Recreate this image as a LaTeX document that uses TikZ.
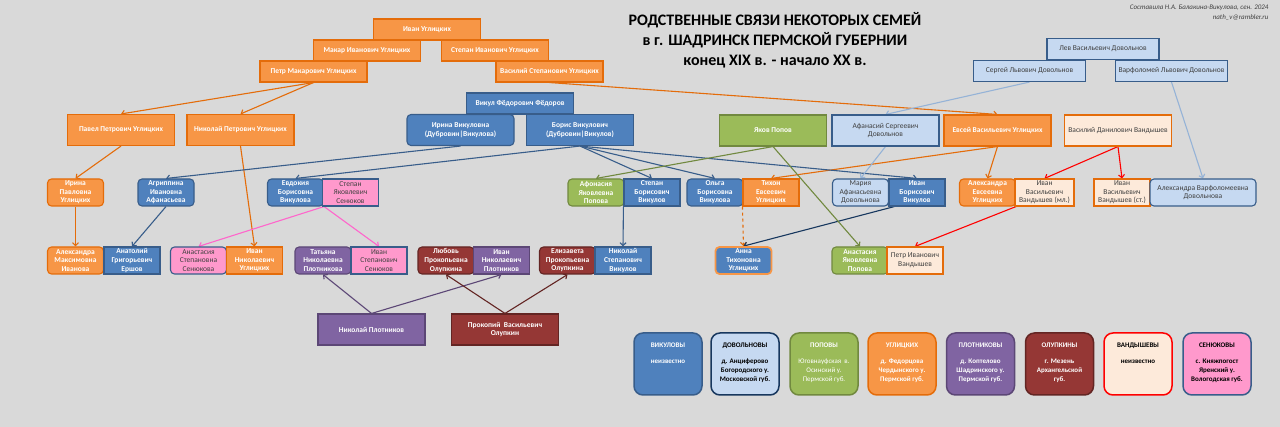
\documentclass[tikz,border=0pt]{standalone}
\usepackage{fontspec}
\setmainfont{Carlito}
\usepackage{tikz}
\definecolor{bg}{RGB}{217,217,217}
\definecolor{txt}{RGB}{64,64,64}
\definecolor{vikfill}{RGB}{79,129,189}
\definecolor{vikline}{RGB}{56,93,138}
\definecolor{dovfill}{RGB}{198,217,241}
\definecolor{dovline}{RGB}{56,93,138}
\definecolor{dovedge}{RGB}{149,179,215}
\definecolor{popfill}{RGB}{155,187,89}
\definecolor{popline}{RGB}{113,137,63}
\definecolor{uglfill}{RGB}{247,150,70}
\definecolor{uglline}{RGB}{228,108,10}
\definecolor{plofill}{RGB}{128,100,162}
\definecolor{ploline}{RGB}{92,71,118}
\definecolor{olufill}{RGB}{149,55,53}
\definecolor{oluline}{RGB}{99,37,35}
\definecolor{vanfill}{RGB}{253,234,218}
\definecolor{senfill}{RGB}{255,153,204}
\definecolor{senedge}{RGB}{255,102,204}
\definecolor{navy}{RGB}{23,55,94}
\definecolor{lred}{RGB}{255,0,0}
\usetikzlibrary{arrows.meta}
\pgfdeclarelayer{bglayer}
\pgfdeclarelayer{edgelayer}
\pgfdeclarelayer{nodelayer}
\pgfsetlayers{bglayer,edgelayer,nodelayer,main}
\tikzstyle{box}=[draw, line width=1.1pt, align=center, inner sep=1pt, text=white, font=\fontsize{7.5}{8.6}\selectfont\bfseries]
\tikzstyle{big}=[box, minimum width=107pt, minimum height=21pt]
\tikzstyle{mid}=[box, minimum width=107pt, minimum height=31pt]
\tikzstyle{sm}=[box, minimum width=56pt, minimum height=27pt]
\tikzstyle{rnd}=[rounded corners=4pt]
\tikzstyle{lite}=[text=txt, font=\fontsize{7.5}{8.6}\selectfont]
\tikzstyle{vik}=[fill=vikfill, draw=vikline]
\tikzstyle{dov}=[fill=dovfill, draw=dovline, lite]
\tikzstyle{pop}=[fill=popfill, draw=popline]
\tikzstyle{ugl}=[fill=uglfill, draw=uglline]
\tikzstyle{plo}=[fill=plofill, draw=ploline]
\tikzstyle{olu}=[fill=olufill, draw=oluline]
\tikzstyle{van}=[fill=vanfill, draw=uglline, lite]
\tikzstyle{sen}=[fill=senfill, draw=vikline, lite]
\tikzstyle{leg}=[draw, line width=1.5pt, rounded corners=9pt, minimum width=68pt, minimum height=62pt, inner sep=1pt, font=\fontsize{7}{9}\selectfont\bfseries]
\tikzstyle{edge}=[->, line width=1.1pt]
\newcommand{\legtext}[2]{\parbox[c][56pt][t]{66pt}{\centering\vspace*{7pt}#1\\[7pt]#2}}

\begin{document}
\begin{tikzpicture}[x=1pt, y=-1pt, >={Straight Barb[length=3pt,width=6pt]}]
        \begin{pgfonlayer}{bglayer}
            \fill [bg] (0,0) rectangle (1280,427);
        \end{pgfonlayer}
        \useasboundingbox (0,0) rectangle (1280,427);

        \begin{pgfonlayer}{nodelayer}
            % title
            \node [align=center, font=\fontsize{16}{20}\selectfont\bfseries] (title) at (775,40) {РОДСТВЕННЫЕ СВЯЗИ НЕКОТОРЫХ СЕМЕЙ\\в г. ШАДРИНСК ПЕРМСКОЙ ГУБЕРНИИ\\конец XIX в. - начало XX в.};
            \node [anchor=north east, align=right, text=txt, font=\fontsize{7}{10}\selectfont\itshape] (credit) at (1272,1) {Составила Н.А. Балакина-Викулова, сен. 2024\\nath\_v@rambler.ru};

            % Углицких
            \node [big, ugl] (ivan) at (427,29.5) {Иван Углицких};
            \node [big, ugl] (makar) at (367,50.5) {Макар Иванович Углицких};
            \node [big, ugl] (stepan) at (495,50.5) {Степан Иванович Углицких};
            \node [big, ugl] (petr) at (313.5,71.5) {Петр Макарович Углицких};
            \node [big, ugl] (vasiliy) at (549.5,71.5) {Василий Степанович Углицких};
            \node [mid, ugl] (pavel) at (121,130) {Павел Петрович Углицких};
            \node [mid, ugl] (nikolay) at (240.5,130) {Николай Петрович Углицких};

            % Викуловы
            \node [big, vik] (vikul) at (520,103.5) {Викул Фёдорович Фёдоров};
            \node [mid, vik, rnd] (irina) at (460.5,130) {Ирина Викуловна\\(Дубровин|Викулова)};
            \node [mid, vik] (boris) at (580,130) {Борис Викулович\\(Дубровин|Викулов)};

            % Довольновы
            \node [big, dov, minimum width=112pt] (lev) at (1103,49) {Лев Васильевич Довольнов};
            \node [big, dov, minimum width=112pt] (sergey) at (1029.5,71) {Сергей Львович Довольнов};
            \node [big, dov, minimum width=112pt] (varf) at (1171.5,71) {Варфоломей Львович Довольнов};

            \node [mid, pop] (yakov) at (773,130.5) {Яков Попов};
            \node [mid, dov] (afanasiy) at (885.5,130.5) {Афанасий Сергеевич\\Довольнов};
            \node [mid, ugl] (evsey) at (997.5,130.5) {Евсей Васильевич Углицких};
            \node [mid, van] (vasdan) at (1118,130.5) {Василий Данилович Вандышев};

            % third row
            \node [sm, ugl, rnd] (irinap) at (75.5,192.5) {Ирина\\Павловна\\Углицких};
            \node [sm, vik, rnd] (agrip) at (166,192.5) {Агриппина\\Ивановна\\Афанасьева};
            \node [sm, vik, rnd] (evdok) at (295.5,192.5) {Евдокия\\Борисовна\\Викулова};
            \node [sm, sen] (stsen) at (350.5,192.5) {Степан\\Яковлевич\\Сенюков};
            \node [sm, pop, rnd] (afon) at (596,192.5) {Афонасия\\Яковлевна\\Попова};
            \node [sm, vik] (stbor) at (652,192.5) {Степан\\Борисович\\Викулов};
            \node [sm, vik, rnd] (olga) at (715,192.5) {Ольга\\Борисовна\\Викулова};
            \node [sm, ugl] (tihon) at (771,192.5) {Тихон\\Евсеевич\\Углицких};
            \node [sm, dov, rnd] (maria) at (860.5,192.5) {Мария\\Афанасьевна\\Довольнова};
            \node [sm, vik] (ivbor) at (917,192.5) {Иван\\Борисович\\Викулов};
            \node [sm, ugl, rnd] (aleks) at (987.5,192.5) {Александра\\Евсеевна\\Углицких};
            \node [sm, van, minimum width=59pt] (ivml) at (1044.5,192.5) {Иван\\Васильевич\\Вандышев (мл.)};
            \node [sm, van] (ivst) at (1122,192.5) {Иван\\Васильевич\\Вандышев (ст.)};
            \node [sm, dov, rnd, minimum width=106pt] (alvarf) at (1203,192.5) {Александра Варфоломеевна\\Довольнова};

            % fourth row
            \node [sm, ugl, rnd] (alexm) at (75.5,260.5) {Александра\\Максимовна\\Иванова};
            \node [sm, vik] (anat) at (132,260.5) {Анатолий\\Григорьевич\\Ершов};
            \node [sm, sen, rnd] (anast) at (198.5,260.5) {Анастасия\\Степановна\\Сенюкова};
            \node [sm, ugl] (ivnik) at (254.5,260.5) {Иван\\Николаевич\\Углицких};
            \node [sm, plo, rnd] (tatyana) at (323,260.5) {Татьяна\\Николаевна\\Плотникова};
            \node [sm, sen] (ivstep) at (379,260.5) {Иван\\Степанович\\Сенюков};
            \node [sm, olu, rnd] (lubov) at (446,260.5) {Любовь\\Прокопьевна\\Олупкина};
            \node [sm, plo] (ivplot) at (501.5,260.5) {Иван\\Николаевич\\Плотников};
            \node [sm, olu, rnd] (eliz) at (567.5,260.5) {Елизавета\\Прокопьевна\\Олупкина};
            \node [sm, vik] (nikst) at (623,260.5) {Николай\\Степанович\\Викулов};
            \node [sm, vik, rnd, draw=uglfill, line width=1.8pt] (anna) at (743.5,260.5) {Анна\\Тихоновна\\Углицких};
            \node [sm, pop, rnd] (anastp) at (860,260.5) {Анастасия\\Яковлевна\\Попова};
            \node [sm, van] (petriv) at (915,260.5) {Петр Иванович\\Вандышев};

            % fifth row
            \node [mid, plo] (nikplot) at (371.5,329.5) {Николай Плотников};
            \node [mid, olu] (prokop) at (505,329.5) {Прокопий~ Васильевич\\Олупкин};

            % legend
            \node [leg, vik, text=white] (lvik) at (668,364) {\legtext{ВИКУЛОВЫ}{неизвестно}};
            \node [leg, fill=dovfill, draw=navy, text=black] (ldov) at (745,364) {\legtext{ДОВОЛЬНОВЫ}{д. Анциферово\\Богородского у.\\Московской губ.}};
            \node [leg, pop, text=white] (lpop) at (824,364) {\legtext{ПОПОВЫ}{\mdseries Юговнауфская~ в.\\Осинский у.\\Пермской губ.}};
            \node [leg, ugl, text=white] (lugl) at (902,364) {\legtext{УГЛИЦКИХ}{д. Федорцова\\Чердынского у.\\Пермской губ.}};
            \node [leg, plo, text=white] (lplo) at (980.5,364) {\legtext{ПЛОТНИКОВЫ}{д. Коптелово\\Шадринского у.\\Пермской губ.}};
            \node [leg, olu, text=white] (lolu) at (1059.5,364) {\legtext{ОЛУПКИНЫ}{г. Мезень\\Архангельской\\губ.}};
            \node [leg, fill=vanfill, draw=lred, text=black] (lvan) at (1138,364) {\legtext{ВАНДЫШЕВЫ}{неизвестно}};
            \node [leg, fill=senfill, draw=vikline, text=black] (lsen) at (1217,364) {\legtext{СЕНЮКОВЫ}{с. Княжпогост\\Яренский у.\\Вологодская губ.}};
        \end{pgfonlayer}

        \begin{pgfonlayer}{edgelayer}
            \draw [edge, uglline] (petr.south) to (pavel.north);
            \draw [edge, uglline] (petr.south) to (nikolay.north);
            \draw [edge, uglline] (vasiliy.south) to (evsey.north);
            \draw [edge, uglline] (pavel.south) to (irinap.north);
            \draw [edge, uglline] (nikolay.south) to (ivnik.north);
            \draw [edge, uglline] (irinap.south) to (alexm.north);
            \draw [edge, uglline] (evsey.south) to (tihon.north);
            \draw [edge, uglline] (evsey.south) to (aleks.north);
            \draw [edge, uglline, dashed] (tihon.south west) to (anna.north);

            \draw [edge, vikline] (irina.south) to (agrip.north);
            \draw [edge, vikline] (agrip.south) to (anat.north);
            \draw [edge, vikline] (boris.south) to (evdok.north);
            \draw [edge, vikline] (boris.south) to (stbor.north);
            \draw [edge, vikline] (boris.south) to (olga.north);
            \draw [edge, vikline] (boris.south) to (ivbor.north);
            \draw [edge, vikline] (stbor.south west) to (nikst.north);
            \draw [edge, navy] ([xshift=6pt]ivbor.south west) to (anna.north);

            \draw [edge, dovedge] (sergey.south) to (afanasiy.north);
            \draw [edge, dovedge] (varf.south) to (alvarf.north);
            \draw [edge, dovedge] (afanasiy.south) to (maria.north);

            \draw [edge, popline] (yakov.south) to (afon.north);
            \draw [edge, popline] (yakov.south) to (anastp.north);

            \draw [edge, lred] (vasdan.south) to (ivml.north);
            \draw [edge, lred] (vasdan.south) to (ivst.north);
            \draw [edge, lred] (aleks.south east) to (petriv.north);

            \draw [edge, senedge] (evdok.south east) to (anast.north);
            \draw [edge, senedge] (evdok.south east) to (ivstep.north);

            \draw [edge, ploline] (nikplot.north) to (tatyana.south);
            \draw [edge, ploline] (nikplot.north) to (ivplot.south);
            \draw [edge, oluline] (prokop.north) to (lubov.south);
            \draw [edge, oluline] (prokop.north) to (eliz.south);
        \end{pgfonlayer}
    \end{tikzpicture}
\end{document}
